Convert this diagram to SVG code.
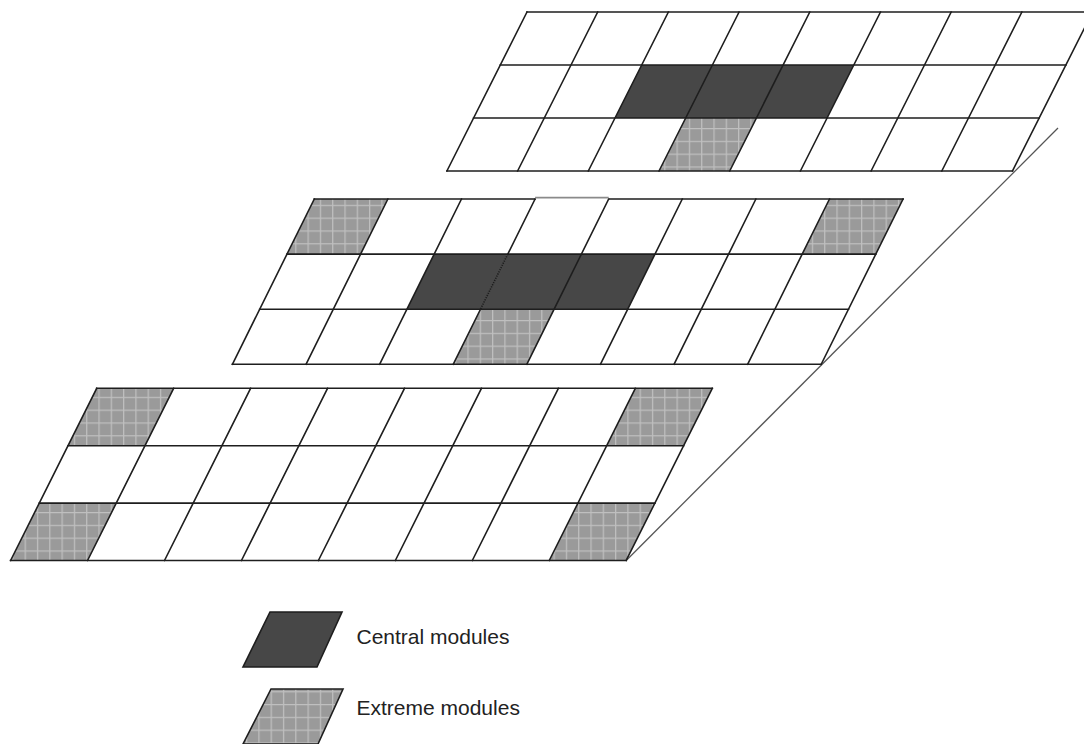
<svg xmlns="http://www.w3.org/2000/svg" width="1084" height="744" viewBox="0 0 1084 744">
<style>
.grid{stroke:#1e1e1e;stroke-width:1.6;fill:none;stroke-linecap:square}
.dark{fill:#474747}
.ext{fill:url(#hatch)}
.lab{font-family:"Liberation Sans",Arial,sans-serif;font-size:21px;fill:#222}
.lead{stroke:#555;stroke-width:1.3;fill:none}
</style>
<defs>
<pattern id="hatch" patternUnits="userSpaceOnUse" width="12.3" height="12.8">
<rect width="12.3" height="12.8" fill="#9a9a9a"/>
<path d="M0.6 0V12.8M0 0.6H12.3" stroke="#bfbfbf" stroke-width="1.3"/>
</pattern>
</defs>
<rect width="1084" height="744" fill="#ffffff"/>

<g id="connectors">
<line class="lead" x1="1058" y1="128" x2="626.2" y2="560.5"/>
</g>

<g id="layer-top">
<polygon class="dark" points="641.7,65 853.8,65 827.1,118 615,118"/>
<polygon class="ext" points="685.7,118 756.4,118 729.7,171 659,171"/>
<g class="grid">
<path d="M527 12H1092.6M500.3 65H1065.9M473.6 118H1039.2M446.9 171H1012.5"/>
<path d="M527 12L446.9 171M597.7 12L517.6 171M668.4 12L588.3 171M739.1 12L659 171M809.8 12L729.7 171M880.5 12L800.4 171M951.2 12L871.1 171M1021.9 12L941.8 171M1092.6 12L1012.5 171"/>
</g>
</g>

<g id="layer-middle">
<polygon class="ext" points="314.3,199 387.9,199 360.6,254.1 287,254.1"/>
<polygon class="ext" points="829.5,199 903.1,199 875.8,254.1 802.2,254.1"/>
<polygon class="dark" points="434.2,254.1 655,254.1 627.7,309.2 406.9,309.2"/>
<polygon class="ext" points="480.5,309.2 554.1,309.2 526.8,364.3 453.2,364.3"/>
<g class="grid">
<path d="M314.3 199H535.1M608.7 199H903.1M287 254.1H875.8M259.7 309.2H848.5M232.4 364.3H821.2"/>
<path d="M314.3 199L232.4 364.3M387.9 199L306 364.3M461.5 199L379.6 364.3M535.1 199L507.8 254.1M480.5 309.2L453.2 364.3M608.7 199L526.8 364.3M682.3 199L600.4 364.3M755.9 199L674 364.3M829.5 199L747.6 364.3M903.1 199L821.2 364.3"/>
</g>
<line x1="535.1" y1="197.6" x2="608.7" y2="197.6" stroke="#8a8a8a" stroke-width="1.6"/>
<line x1="507.8" y1="254.1" x2="480.5" y2="309.2" stroke="#1e1e1e" stroke-width="1.6" stroke-dasharray="1.2 1.2"/>
</g>

<g id="layer-bottom">
<polygon class="ext" points="96.7,388.3 173.65,388.3 144.95,445.7 68,445.7"/>
<polygon class="ext" points="635.35,388.3 712.3,388.3 683.6,445.7 606.65,445.7"/>
<polygon class="ext" points="39.3,503.1 116.25,503.1 87.55,560.5 10.6,560.5"/>
<polygon class="ext" points="577.95,503.1 654.9,503.1 626.2,560.5 549.25,560.5"/>
<g class="grid">
<path d="M96.7 388.3H712.3M68 445.7H683.6M39.3 503.1H654.9M10.6 560.5H626.2"/>
<path d="M96.7 388.3L10.6 560.5M173.65 388.3L87.55 560.5M250.6 388.3L164.5 560.5M327.55 388.3L241.45 560.5M404.5 388.3L318.4 560.5M481.45 388.3L395.35 560.5M558.4 388.3L472.3 560.5M635.35 388.3L549.25 560.5M712.3 388.3L626.2 560.5"/>
</g>
</g>

<g id="legend-central">
<polygon class="dark" points="270,612 342,612 317,667 243,667" stroke="#1e1e1e" stroke-width="1.6"/>
<text class="lab" x="356.5" y="643.5">Central modules</text>
</g>
<g id="legend-extreme">
<polygon class="ext" points="271,689 343,689 318,744 243,744" stroke="#1e1e1e" stroke-width="1.6"/>
<text class="lab" x="356.5" y="715">Extreme modules</text>
</g>
</svg>
